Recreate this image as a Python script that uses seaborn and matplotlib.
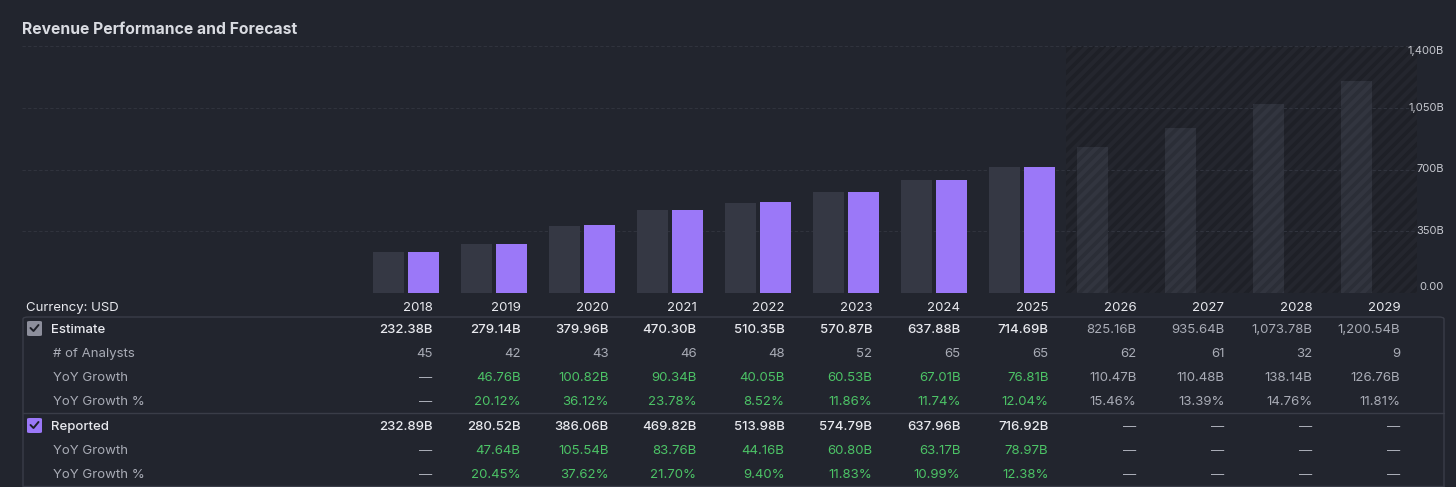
import matplotlib.pyplot as plt
import matplotlib.transforms as mtransforms
from matplotlib.patches import FancyBboxPatch
import numpy as np
import pandas as pd
import seaborn as sns

years = [str(y) for y in range(2018, 2030)]
estimate = [232.38, 279.14, 379.96, 470.30, 510.35, 570.87, 637.88, 714.69,
            825.16, 935.64, 1073.78, 1200.54]
reported = [232.89, 280.52, 386.06, 469.82, 513.98, 574.79, 637.96, 716.92,
            np.nan, np.nan, np.nan, np.nan]
analysts = [45, 42, 43, 46, 48, 52, 65, 65, 62, 61, 32, 9]
est_yoy = [np.nan, 46.76, 100.82, 90.34, 40.05, 60.53, 67.01, 76.81,
           110.47, 110.48, 138.14, 126.76]
est_yoy_pct = [np.nan, 20.12, 36.12, 23.78, 8.52, 11.86, 11.74, 12.04,
               15.46, 13.39, 14.76, 11.81]
rep_yoy = [np.nan, 47.64, 105.54, 83.76, 44.16, 60.80, 63.17, 78.97,
           np.nan, np.nan, np.nan, np.nan]
rep_yoy_pct = [np.nan, 20.45, 37.62, 21.70, 9.40, 11.83, 10.99, 12.38,
               np.nan, np.nan, np.nan, np.nan]
y_ticks = [0, 350, 700, 1050, 1400]
y_tick_labels = ["0.00", "350B", "700B", "1,050B", "1,400B"]
n_actual = 8

BG = "#22252e"
EST_COLOR = "#353844"
REP_COLOR = "#9b78f8"
FC_COLOR = "#2b2e37"
WHITE = "#e8e9ee"
GREY = "#a9acb6"
GREEN = "#4cc366"
LINE = "#3a3d48"

sns.set_theme(style="dark")
plt.rcParams["font.family"] = ["Inter", "DejaVu Sans"]
plt.rcParams["hatch.linewidth"] = 3.0

W, H = 1456, 487
fig = plt.figure(figsize=(W / 100, H / 100), dpi=100, facecolor=BG)

# chart area in pixels
left, right, top, bottom = 22, 1417, 46, 293
ax = fig.add_axes([left / W, 1 - bottom / H, (right - left) / W, (bottom - top) / H])
ax.set_facecolor(BG)

df = pd.DataFrame({
    "year": years * 2,
    "series": ["Estimate"] * len(years) + ["Reported"] * len(years),
    "value": estimate + reported,
})

# forecast band
slot = 88
center0 = 406
x_left = (left - center0) / slot
x_right = (right - center0) / slot
ax.axvspan(n_actual - 0.5, x_right, facecolor="#1e2027", edgecolor="#24262e",
           hatch="///", linewidth=0, zorder=0)

sns.barplot(data=df, x="year", y="value", hue="series", order=years,
            hue_order=["Estimate", "Reported"],
            palette={"Estimate": EST_COLOR, "Reported": REP_COLOR},
            width=0.8, gap=0.1, linewidth=0, saturation=1, legend=False,
            ax=ax, zorder=2)

for i, bar in enumerate(ax.containers[0]):
    if i >= n_actual:
        bar.set_facecolor(FC_COLOR)
        bar.set_edgecolor("#32353f")
        bar.set_hatch("///")

ax.set_xlim(x_left, x_right)
ax.set_ylim(0, 1400)
ax.set_yticks(y_ticks)
ax.set_yticklabels([])
ax.set_xticks([])
ax.set_xlabel("")
ax.set_ylabel("")
ax.tick_params(length=0)
for s in ax.spines.values():
    s.set_visible(False)
for v in y_ticks:
    ax.axhline(v, color="#30333d", linewidth=0.8, linestyle=(0, (3, 2)), zorder=1)

# right-side value labels
ty = mtransforms.blended_transform_factory(fig.transFigure, ax.transData)
for v, lab in zip(y_ticks, y_tick_labels):
    shift = 0
    if v == y_ticks[0]:
        shift = 34
    elif v == y_ticks[-1]:
        shift = -30
    ax.text(1444 / W, v + shift, lab, transform=ty, ha="right", va="center",
            fontsize=8, color="#c7c9d0", clip_on=False)

fig.text(22 / W, 1 - 29 / H, "Revenue Performance and Forecast", fontsize=11.3,
         fontweight="bold", color="#d9dbe1", ha="left", va="center")

# table
tx = mtransforms.blended_transform_factory(ax.transData, fig.transFigure)


def fy(py):
    return 1 - py / H


def fmt_b(v):
    return "—" if np.isnan(v) else f"{v:,.2f}B"


def fmt_p(v):
    return "—" if np.isnan(v) else f"{v:.2f}%"


col_x = [i + 0.3 for i in range(len(years))]
dy = 2  # text baseline nudge

fig.text(26 / W, fy(306 + dy), "Currency: USD", fontsize=9.5, color=WHITE, va="center")
for x, yr in zip(col_x, years):
    ax.text(x, fy(306 + dy), yr, transform=tx, ha="right", va="center", fontsize=9.5,
            color=WHITE, clip_on=False)

rows = [
    (328, "Estimate", [fmt_b(v) for v in estimate], "main"),
    (352, "# of Analysts", [str(v) for v in analysts], "count"),
    (376, "YoY Growth", [fmt_b(v) for v in est_yoy], "growth"),
    (400, "YoY Growth %", [fmt_p(v) for v in est_yoy_pct], "growth"),
    (425, "Reported", [fmt_b(v) for v in reported], "main"),
    (449, "YoY Growth", [fmt_b(v) for v in rep_yoy], "growth"),
    (473, "YoY Growth %", [fmt_p(v) for v in rep_yoy_pct], "growth"),
]

for py, label, vals, kind in rows:
    if kind == "main":
        fig.text(51 / W, fy(py + dy), label, fontsize=9.5, color=WHITE, va="center",
                 fontweight="medium")
    else:
        fig.text(53 / W, fy(py + dy), label, fontsize=9.5, color=GREY, va="center")
    for i, (x, s) in enumerate(zip(col_x, vals)):
        if s == "—":
            color = GREY
        elif i >= n_actual:
            color = GREY
        elif kind == "main":
            color = WHITE
        elif kind == "count":
            color = GREY
        else:
            color = GREEN
        ax.text(x, fy(py + dy), s, transform=tx, ha="right", va="center", fontsize=9.5,
                color=color, clip_on=False,
                fontweight="medium" if kind == "main" and i < n_actual else "normal")

# table frame
frame = FancyBboxPatch((23 / W, fy(492)), (1444 - 23) / W, (492 - 317) / H,
                       boxstyle="round,pad=0,rounding_size=0.004",
                       transform=fig.transFigure, facecolor="none",
                       edgecolor=LINE, linewidth=1.0)
fig.add_artist(frame)
fig.add_artist(plt.Line2D([23 / W, 1444 / W], [fy(412.5), fy(412.5)],
                          color=LINE, linewidth=1.0, transform=fig.transFigure))
fig.add_artist(plt.Line2D([23 / W, 1444 / W], [fy(485.5), fy(485.5)],
                          color=LINE, linewidth=1.0, transform=fig.transFigure))

# checkboxes
for py, fill in [(328, "#8d8f9c"), (425, REP_COLOR)]:
    box = FancyBboxPatch((27 / W, fy(py + 8)), 15 / W, 15 / H,
                         boxstyle="round,pad=0,rounding_size=0.002",
                         transform=fig.transFigure, facecolor=fill,
                         edgecolor="none")
    fig.add_artist(box)
    fig.add_artist(plt.Line2D([30.5 / W, 33.5 / W, 38.5 / W],
                              [fy(py), fy(py + 3), fy(py - 3)],
                              color="#1e2028", linewidth=1.4,
                              transform=fig.transFigure))

fig.savefig("out.png", dpi=100, facecolor=BG)
